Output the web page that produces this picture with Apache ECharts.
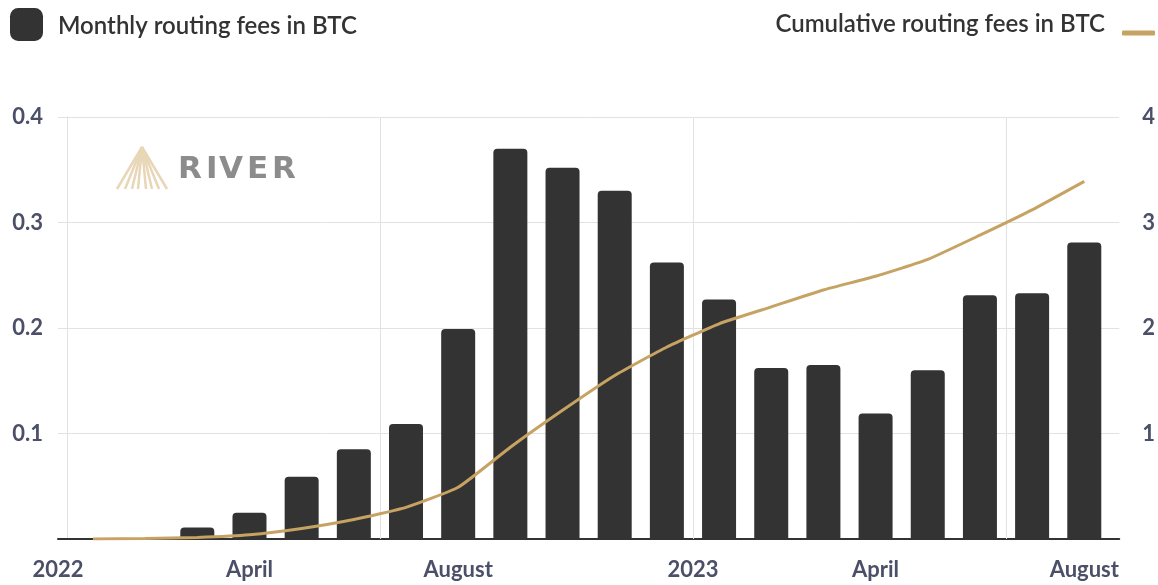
<!DOCTYPE html>
<html>
<head>
<meta charset="utf-8">
<script src="https://cdn.jsdelivr.net/npm/echarts@6/dist/echarts.min.js"></script>
<style>
  html, body { margin: 0; padding: 0; background: #fff; }
  #chart { width: 1158px; height: 585px; }
</style>
</head>
<body>
<div id="chart"></div>
<script>
// monthly data, Jan 2022 .. Aug 2023
const months = [
  '2022-01', '2022-02', '2022-03', '2022-04', '2022-05', '2022-06', '2022-07', '2022-08',
  '2022-09', '2022-10', '2022-11', '2022-12', '2023-01', '2023-02', '2023-03', '2023-04',
  '2023-05', '2023-06', '2023-07', '2023-08'
]
const monthlyFees = [
  0, 0, 0.011, 0.025, 0.059, 0.085, 0.109, 0.199,
  0.37, 0.352, 0.33, 0.262, 0.227, 0.162, 0.165, 0.119,
  0.16, 0.231, 0.233, 0.281
]
const cumulativeFees = [
  0, 0.004, 0.015, 0.04, 0.1, 0.185, 0.3, 0.49,
  0.87, 1.22, 1.55, 1.82, 2.04, 2.2, 2.36, 2.49,
  2.65, 2.88, 3.12, 3.39
]
// x ticks in month units (0 = start of Jan 2022, axis starts a bit before)
const xMin = -0.17
const xMax = 20.17
const xTickValues = [xMin, 3.5, 7.5, 12, 15.5, 19.5]
const xTickLabels = ['2022', 'April', 'August', '2023', 'April', 'August']
const yearStarts = [6, 12, 18]
const leftTicks = ['', '0.1', '0.2', '0.3', '0.4']
const rightTicks = ['', '1', '2', '3', '4']

const labelColor = '#4b4f68'
const barColor = '#333333'
const lineColor = '#c6a263'
const gridColor = '#e2e2e2'
const font = 'Lato, "Open Sans", sans-serif'

const barData = months.map((m, i) => [i + 0.5, monthlyFees[i]])
const lineData = months.map((m, i) => [i + 0.5, cumulativeFees[i]])

const chart = echarts.init(document.getElementById('chart'))

// River watermark: logo rays + spaced letters
const rays = [117, 125, 132, 138, 146, 152, 159, 167].map(x => ({
  type: 'line',
  shape: { x1: 142, y1: 147, x2: x, y2: 189 },
  style: { stroke: '#e8d6b6', lineWidth: 2.5 },
  silent: true
}))
const letters = [['R', 178], ['I', 206], ['V', 219], ['E', 247], ['R', 272]].map(([ch, x]) => ({
  type: 'text',
  x: x,
  y: 154,
  silent: true,
  style: { text: ch, font: 'bold 31px "DejaVu Sans"', fill: '#8c8c8c' }
}))

const legendText = { fontSize: 24, fontWeight: 600, color: '#333', fontFamily: font }

chart.setOption({
  animation: false,
  textStyle: { fontFamily: font },
  legend: [
    {
      data: ['Monthly routing fees in BTC'],
      left: 10,
      top: 8,
      padding: 0,
      icon: 'roundRect',
      itemWidth: 33,
      itemHeight: 33,
      // leading empty line nudges the text slightly down
      formatter: name => '\n' + name,
      textStyle: { ...legendText, lineHeight: 4, padding: [0, 0, 0, 10] }
    },
    {
      data: ['Cumulative routing fees in BTC'],
      right: 3,
      top: 12,
      padding: 0,
      align: 'right',
      icon: 'roundRect',
      itemWidth: 33,
      itemHeight: 5,
      // trailing empty line lifts the text above the line marker
      formatter: name => name + '\n',
      textStyle: { ...legendText, lineHeight: 18, padding: [0, 12, 0, 0] }
    }
  ],
  grid: { left: 58, right: 36, top: 117, bottom: 46 },
  graphic: [...rays, ...letters],
  xAxis: {
    type: 'value',
    min: xMin,
    max: xMax,
    splitLine: { show: false },
    axisTick: { show: false },
    axisLine: { show: true, onZero: false, lineStyle: { color: '#333', width: 2 } },
    axisLabel: {
      customValues: xTickValues,
      formatter: v => xTickLabels[xTickValues.indexOf(v)] ?? '',
      color: labelColor,
      fontSize: 22,
      fontWeight: 'bold',
      margin: 20
    }
  },
  yAxis: [
    {
      type: 'value',
      min: 0,
      max: 0.4,
      interval: 0.1,
      axisTick: { show: false },
      axisLine: { show: true, lineStyle: { color: gridColor } },
      splitLine: { lineStyle: { color: gridColor } },
      axisLabel: {
        formatter: (v, i) => leftTicks[i] ?? '',
        color: labelColor,
        fontSize: 22,
        fontWeight: 'bold',
        margin: 15
      }
    },
    {
      type: 'value',
      min: 0,
      max: 4,
      interval: 1,
      position: 'right',
      axisTick: { show: false },
      axisLine: { show: false },
      splitLine: { show: false },
      axisLabel: {
        formatter: (v, i) => rightTicks[i] ?? '',
        color: labelColor,
        fontSize: 22,
        fontWeight: 'bold',
        margin: 23
      }
    }
  ],
  series: [
    {
      name: 'Monthly routing fees in BTC',
      type: 'bar',
      data: barData,
      barWidth: 34,
      itemStyle: { color: barColor, borderRadius: [4, 4, 0, 0] },
      markLine: {
        silent: true,
        symbol: 'none',
        label: { show: false },
        lineStyle: { color: gridColor, type: 'solid', width: 1 },
        data: yearStarts.map(x => ({ xAxis: x }))
      }
    },
    {
      name: 'Cumulative routing fees in BTC',
      type: 'line',
      yAxisIndex: 1,
      data: lineData,
      showSymbol: false,
      smooth: 0.15,
      lineStyle: { color: lineColor, width: 3 },
      itemStyle: { color: lineColor },
      z: 5
    }
  ]
})
</script>
</body>
</html>
